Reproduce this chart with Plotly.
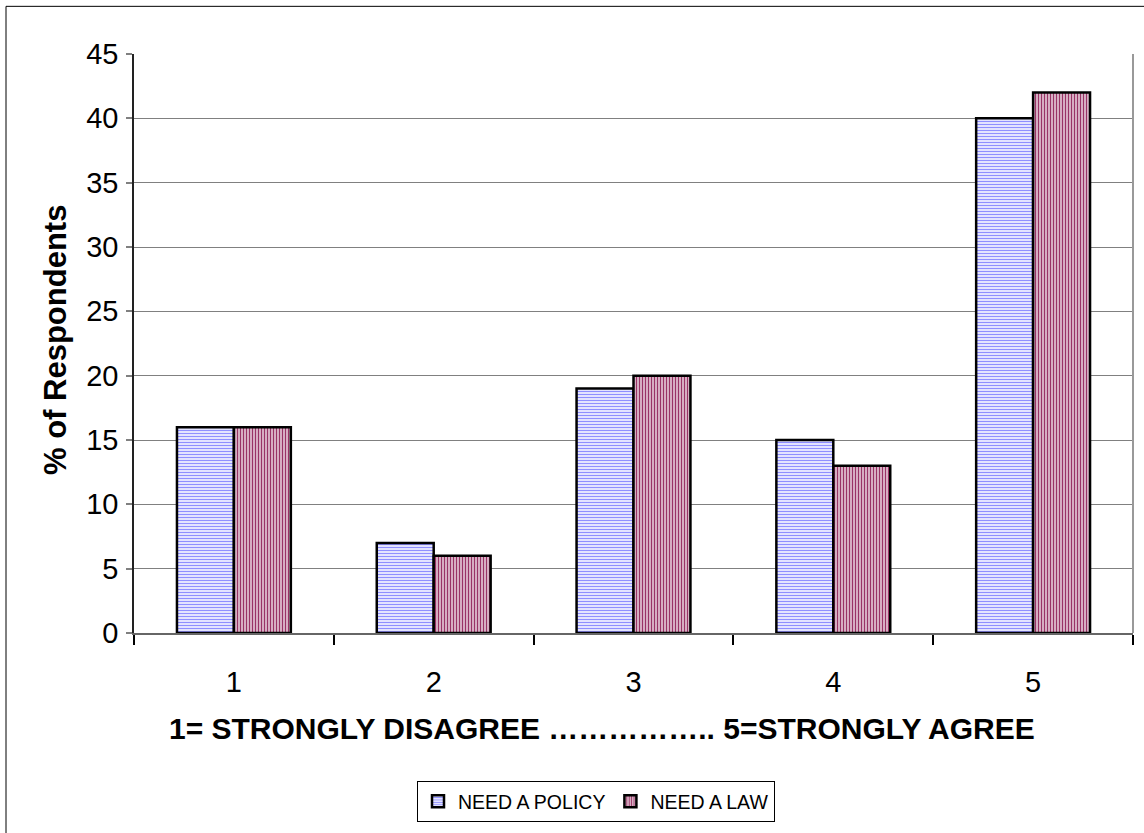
import plotly.graph_objects as go

# Survey responses on a 1-5 agreement scale
categories = ["1", "2", "3", "4", "5"]
need_policy = [16, 7, 19, 15, 40]
need_law = [16, 6, 20, 13, 42]
y_ticks = [0, 5, 10, 15, 20, 25, 30, 35, 40, 45]

W, H = 1144, 833
L, R, T, B = 134, 11, 54, 196
plot_w = W - L - R
plot_h = H - T - B
FONT = "Arial, Liberation Sans, sans-serif"


def px_x(x):
    return (x - L) / plot_w


def px_y(y):
    return (H - B - y) / plot_h


fig = go.Figure()
fig.add_trace(go.Bar(
    x=categories, y=need_policy, name="NEED A POLICY",
    marker=dict(
        color="white",
        line=dict(color="black", width=2.5),
        pattern=dict(shape="-", fgcolor="#8f8fff", bgcolor="white",
                     size=3, solidity=0.5, fillmode="replace"),
    ),
))
fig.add_trace(go.Bar(
    x=categories, y=need_law, name="NEED A LAW",
    marker=dict(
        color="white",
        line=dict(color="black", width=2.5),
        pattern=dict(shape="|", fgcolor="#993366", bgcolor="white",
                     size=3, solidity=0.6, fillmode="replace"),
    ),
))

# outer chart frame
fig.add_shape(type="rect", xref="paper", yref="paper",
              x0=px_x(6), x1=px_x(1160), y0=px_y(6), y1=px_y(850),
              line=dict(color="black", width=1), layer="below")
# plot-area right edge
fig.add_shape(type="line", xref="paper", yref="paper",
              x0=1, x1=1, y0=0, y1=1,
              line=dict(color="#999999", width=2))

# axis titles
fig.add_annotation(
    text="<b>1= STRONGLY DISAGREE …………….. 5=STRONGLY AGREE</b>",
    xref="paper", yref="paper", x=px_x(602), y=px_y(733),
    xanchor="center", yanchor="middle", showarrow=False,
    font=dict(size=30, family=FONT, color="black"),
)
fig.add_annotation(
    text="<b>% of Respondents</b>",
    xref="paper", yref="paper", x=px_x(55), y=px_y(342),
    xanchor="center", yanchor="middle", showarrow=False, textangle=-90,
    font=dict(size=31, family=FONT, color="black"),
)

fig.update_layout(
    width=W, height=H,
    margin=dict(l=L, r=R, t=T, b=B),
    paper_bgcolor="white", plot_bgcolor="white",
    barmode="group", bargap=0.43, bargroupgap=0,
    font=dict(family=FONT, color="black"),
    showlegend=True,
    legend=dict(
        orientation="h", x=px_x(596), xanchor="center",
        y=px_y(786), yanchor="top",
        bordercolor="black", borderwidth=1,
        font=dict(size=19.5, family=FONT),
        itemwidth=30, traceorder="normal",
    ),
)
fig.update_xaxes(
    type="category", range=[-0.5, 4.5],
    tickson="boundaries", ticks="outside", ticklen=10, tickwidth=1.5,
    tickcolor="black",
    showline=True, linecolor="#666666", linewidth=2,
    tickfont=dict(size=29),
    ticklabelstandoff=22,
    showgrid=False,
)
fig.update_yaxes(
    range=[0, 45], tickvals=y_ticks,
    ticks="outside", ticklen=6, tickcolor="#808080", tickwidth=1.5,
    showline=True, linecolor="#222222", linewidth=1.5,
    showgrid=True, gridcolor="#808080", gridwidth=1,
    zeroline=False,
    tickfont=dict(size=29),
    ticklabelstandoff=2,
)

fig.write_html("out.html")
